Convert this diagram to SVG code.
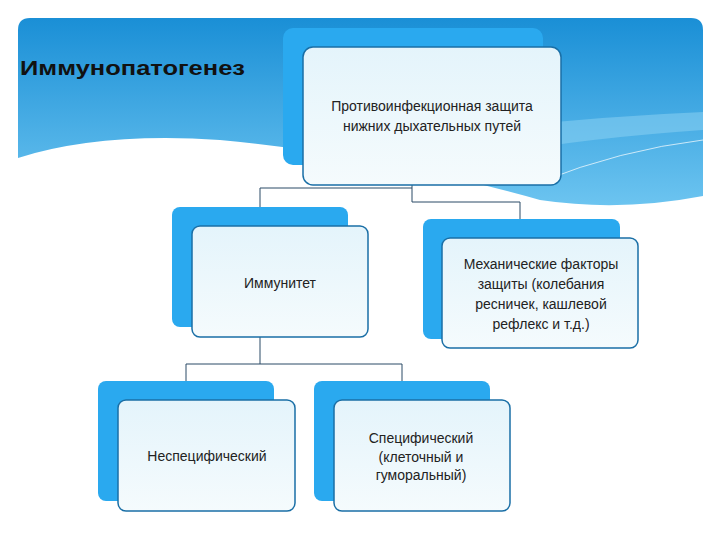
<svg xmlns="http://www.w3.org/2000/svg" width="720" height="540" viewBox="0 0 720 540">
<defs>
<linearGradient id="hg" x1="0" y1="0" x2="0" y2="1"><stop offset="0" stop-color="#1a8fd6"/><stop offset="1" stop-color="#6cc4f0"/></linearGradient>
<linearGradient id="fg" x1="0" y1="0" x2="0" y2="1"><stop offset="0" stop-color="#e4f4fb"/><stop offset="1" stop-color="#f5fbfd"/></linearGradient>
</defs>
<style>
.back{fill:#2aa9ef}
.front{fill:url(#fg);stroke:#1a6fa6;stroke-width:1.5}
.t{font-family:"Liberation Sans",Arial,sans-serif;font-size:14px;fill:#222;text-anchor:middle}
.c{fill:none;stroke:#2a4a66;stroke-width:1}
</style>
<rect width="720" height="540" fill="#fff"/>
<path d="M18,30 Q18,18 30,18 H691 Q703,18 703,30 V196 Q620,212 540,200 Q380,155 220,140 Q100,132 18,158 Z" fill="url(#hg)"/>
<path d="M400,140 Q560,118 703,112 V130 Q560,140 470,160 Z" fill="#8fd3f4" opacity="0.5"/>
<path d="M540,182 Q620,150 703,140" fill="none" stroke="#fff" stroke-width="1" opacity="0.7"/>
<text x="20" y="75" font-family="Liberation Sans,Arial,sans-serif" font-size="21" font-weight="bold" fill="#111" textLength="225" lengthAdjust="spacingAndGlyphs">Иммунопатогенез</text>
<g id="connectors">
<path class="c" d="M412,185 V188 H260 V207"/>
<path class="c" d="M412,188 V202 H520 V219"/>
<path class="c" d="M260,337 V364 H186 V381"/>
<path class="c" d="M260,364 H402 V381"/>
</g>
<g id="n-top"><rect class="back" x="283" y="28" width="260" height="137" rx="10"/><rect class="front" x="303" y="47" width="258" height="138" rx="10"/>
<text class="t" x="432" y="111">Противоинфекционная защита</text><text class="t" x="432" y="131">нижних дыхательных путей</text></g>
<g id="n-imm"><rect class="back" x="172" y="207" width="176" height="120" rx="8"/><rect class="front" x="192" y="226" width="176" height="111" rx="8"/>
<text class="t" x="280" y="288">Иммунитет</text></g>
<g id="n-mech"><rect class="back" x="423" y="219" width="197" height="120" rx="8"/><rect class="front" x="442" y="238" width="196" height="110" rx="8"/>
<text class="t" x="541" y="269">Механические факторы</text><text class="t" x="541" y="289">защиты (колебания</text><text class="t" x="541" y="309">ресничек, кашлевой</text><text class="t" x="541" y="329">рефлекс и т.д.)</text></g>
<g id="n-nonspec"><rect class="back" x="98" y="381" width="176" height="120" rx="8"/><rect class="front" x="118" y="400" width="177" height="111" rx="8"/>
<text class="t" x="207" y="461">Неспецифический</text></g>
<g id="n-spec"><rect class="back" x="314" y="381" width="176" height="120" rx="8"/><rect class="front" x="334" y="400" width="176" height="111" rx="8"/>
<text class="t" x="421" y="443">Специфический</text><text class="t" x="421" y="462">(клеточный и</text><text class="t" x="421" y="480">гуморальный)</text></g>
</svg>
